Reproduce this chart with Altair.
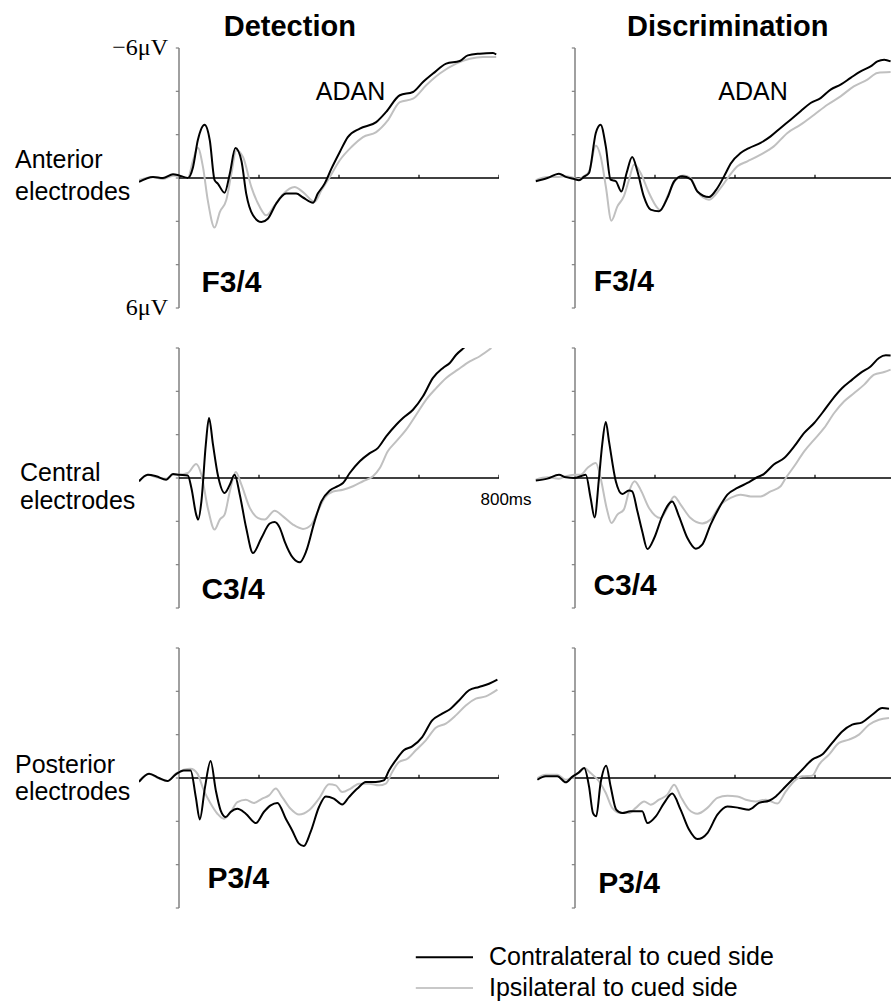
import altair as alt
import pandas as pd

# ---------------------------------------------------------------------------
# Grand-average ERP traces (time in ms, amplitude in microvolts, negative up)
# ---------------------------------------------------------------------------

# Detection task, anterior electrodes (F3/4)
det_ant_contra_t = [-100, -65, -40, -15, 0, 22, 35, 47, 64, 77, 89, 97, 114, 127, 141, 156, 168, 185, 206,
                    222, 243, 268, 293, 310, 335, 347, 364, 381, 402, 422, 452, 493, 518, 552, 585, 610,
                    635, 668, 702, 722, 752, 785, 793]
det_ant_contra_v = [0.18, -0.05, 0.0, -0.17, -0.12, 0.0, -0.5, -1.74, -2.46, -1.74, 0.1, 0.26, 0.68, -0.2,
                    -1.38, -0.8, 0.72, 1.72, 2.03, 1.88, 1.18, 0.72, 0.72, 0.9, 1.14, 0.72, 0.26, -0.43,
                    -1.2, -1.89, -2.28, -2.58, -3.05, -3.82, -3.97, -4.43, -4.82, -5.28, -5.4, -5.66,
                    -5.74, -5.77, -5.7]
det_ant_ipsi_t = [-100, -65, -40, -15, 0, 22, 35, 47, 60, 72, 89, 102, 118, 131, 143, 160, 181, 202, 218,
                  239, 260, 289, 310, 339, 356, 377, 402, 431, 460, 493, 522, 552, 585, 618, 652, 693,
                  727, 760, 793]
det_ant_ipsi_v = [0.1, -0.05, 0.05, -0.1, -0.1, 0.0, -0.8, -1.4, -0.5, 1.03, 2.29, 1.57, 1.03, -0.2,
                  -1.28, -0.97, 0.42, 1.34, 1.72, 1.26, 0.75, 0.42, 0.65, 1.1, 0.57, -0.05, -0.82,
                  -1.43, -1.89, -2.12, -2.66, -3.5, -3.66, -4.28, -4.82, -5.28, -5.5, -5.58, -5.58]

# Discrimination task, anterior electrodes (F3/4)
dis_ant_contra_t = [-98, -69, -40, -23, -2, 10, 22, 35, 52, 64, 77, 89, 102, 116, 129, 143, 156, 172, 189,
                    210, 231, 248, 268, 289, 306, 335, 356, 377, 389, 414, 435, 464, 489, 514, 539, 564,
                    589, 614, 639, 664, 689, 714, 739, 756, 773, 789]
dis_ant_contra_v = [0.15, 0.0, -0.2, -0.05, 0.05, 0.1, -0.05, -0.23, -2.08, -2.46, -1.46, 0.08, 0.15, 0.62,
                    -0.23, -0.97, -0.31, 0.85, 1.46, 1.54, 0.92, 0.15, -0.08, 0.05, 0.62, 0.88, 0.46,
                    -0.23, -0.66, -1.15, -1.38, -1.62, -1.92, -2.31, -2.69, -3.08, -3.46, -3.69, -4.08,
                    -4.31, -4.62, -4.92, -5.15, -5.38, -5.46, -5.38]
dis_ant_ipsi_t = [-98, -69, -40, -23, -2, 10, 22, 35, 52, 64, 77, 91, 106, 122, 135, 148, 164, 185, 206,
                  214, 231, 252, 272, 289, 306, 335, 364, 385, 406, 431, 464, 497, 531, 564, 598, 631,
                  664, 697, 731, 756, 789]
dis_ant_ipsi_v = [0.1, -0.05, -0.05, -0.08, 0.0, 0.05, -0.08, -0.3, -1.5, -1.0, 0.38, 1.97, 1.31, 0.85,
                  0.08, -0.62, -0.23, 0.69, 1.38, 1.49, 0.85, 0.08, -0.11, 0.0, 0.62, 1.0, 0.46, -0.08,
                  -0.54, -0.77, -1.08, -1.46, -2.08, -2.46, -2.92, -3.38, -3.77, -4.23, -4.54, -4.85,
                  -4.89]

# Detection task, central electrodes (C3/4)
det_cen_contra_t = [-100, -78, -57, -32, -15, 0, 22, 31, 43, 48, 56, 67, 75, 85, 97, 114, 127, 139, 152,
                    168, 185, 206, 227, 239, 252, 264, 285, 302, 318, 339, 356, 377, 397, 410, 427, 452,
                    477, 497, 518, 543, 560, 585, 610, 635, 660, 677, 693, 714, 730]
det_cen_contra_v = [0.15, -0.15, -0.08, 0.08, -0.18, -0.15, -0.12, 0.46, 1.69, 1.92, 1.08, -1.54, -2.77,
                    -1.54, -0.15, 0.69, 0.31, -0.15, 0.77, 2.31, 3.46, 2.77, 2.1, 2.03, 2.3, 2.92, 3.69,
                    3.89, 3.38, 2.0, 1.08, 0.58, 0.38, 0.23, -0.23, -0.77, -1.15, -1.38, -1.92, -2.46,
                    -2.77, -3.15, -3.77, -4.62, -5.08, -5.31, -5.69, -6.03, -6.3]
det_cen_ipsi_t = [-100, -78, -57, -32, -15, 0, 22, 43, 56, 72, 89, 102, 114, 127, 142, 156, 177, 198, 214,
                  239, 260, 285, 310, 331, 347, 364, 385, 410, 435, 460, 485, 502, 522, 543, 568, 593,
                  618, 643, 668, 697, 727, 752, 781]
det_cen_ipsi_v = [0.15, -0.15, -0.03, 0.03, -0.15, -0.15, -0.23, -0.65, -0.15, 1.38, 2.38, 1.92, 1.69,
                  0.62, -0.28, 0.31, 1.38, 1.85, 1.92, 1.51, 1.77, 2.15, 2.35, 2.15, 1.54, 0.92, 0.62,
                  0.54, 0.38, 0.15, -0.08, -0.46, -1.23, -1.69, -2.23, -2.92, -3.62, -4.15, -4.62,
                  -5.0, -5.38, -5.62, -6.0]

# Discrimination task, central electrodes (C3/4)
dis_cen_contra_t = [-98, -69, -40, -23, -2, 14, 27, 39, 49, 60, 68, 77, 85, 102, 118, 135, 143, 156, 168,
                    181, 198, 218, 243, 260, 281, 302, 318, 339, 360, 381, 406, 431, 452, 472, 497, 523,
                    548, 573, 598, 618, 643, 668, 693, 714, 739, 760, 777, 789]
dis_cen_contra_v = [0.12, 0.03, -0.15, -0.03, 0.0, -0.08, -0.15, 0.92, 1.82, 0.0, -1.54, -2.58, -1.69,
                    0.15, 0.74, 0.58, 0.62, 1.54, 2.46, 3.28, 2.77, 1.77, 1.08, 1.77, 2.77, 3.26, 3.08,
                    2.15, 1.38, 0.77, 0.46, 0.23, 0.0, -0.18, -0.62, -0.92, -1.46, -2.08, -2.54, -3.0,
                    -3.62, -4.15, -4.54, -4.85, -5.15, -5.54, -5.66, -5.65]
dis_cen_ipsi_t = [-98, -69, -40, -23, -2, 14, 31, 52, 64, 79, 91, 106, 122, 135, 149, 164, 185, 214, 231,
                  248, 264, 289, 318, 339, 364, 389, 414, 439, 464, 489, 514, 527, 548, 573, 598, 623,
                  648, 673, 698, 723, 748, 773, 789]
dis_cen_ipsi_v = [0.08, -0.03, 0.03, -0.08, -0.15, -0.15, -0.46, -0.69, 0.0, 1.38, 2.08, 1.69, 1.46,
                  0.62, 0.15, 0.54, 1.38, 1.85, 1.38, 0.85, 1.23, 1.85, 2.1, 1.92, 1.23, 0.92, 0.77,
                  0.85, 0.85, 0.62, 0.38, 0.0, -0.54, -1.23, -1.77, -2.31, -3.0, -3.54, -3.92, -4.31,
                  -4.77, -4.89, -5.0]

# Detection task, posterior electrodes (P3/4)
det_pos_contra_t = [-100, -75, -50, -29, -8, 12, 29, 42, 52, 65, 79, 92, 104, 117, 129, 146, 167, 192,
                    212, 229, 246, 267, 283, 300, 312, 329, 350, 367, 387, 408, 425, 446, 467, 492, 512,
                    525, 542, 562, 583, 608, 633, 658, 679, 700, 725, 750, 775, 796]
det_pos_contra_v = [0.18, -0.2, 0.0, 0.14, -0.17, -0.35, -0.35, 0.88, 1.91, 0.42, -0.78, 0.57, 1.49, 1.8,
                    1.57, 1.42, 1.65, 2.08, 1.57, 1.26, 1.15, 1.88, 2.42, 3.03, 3.14, 2.49, 1.34, 0.85,
                    0.95, 1.22, 0.88, 0.49, 0.18, 0.18, 0.11, -0.35, -0.82, -1.28, -1.46, -1.89, -2.66,
                    -2.97, -3.2, -3.58, -4.05, -4.2, -4.35, -4.54]
det_pos_ipsi_t = [-100, -75, -50, -29, -8, 12, 29, 46, 62, 79, 96, 112, 129, 146, 167, 187, 208, 225,
                  242, 258, 279, 300, 325, 350, 375, 392, 408, 429, 450, 475, 500, 517, 533, 550, 571,
                  592, 617, 642, 667, 692, 717, 742, 767, 796]
det_pos_ipsi_v = [0.14, -0.2, 0.03, 0.14, -0.2, -0.38, -0.43, -0.2, 0.57, 1.18, 1.65, 1.88, 1.57, 1.11,
                  1.0, 1.15, 0.95, 0.8, 0.49, 0.88, 1.42, 1.69, 1.49, 0.95, 0.29, 0.34, 0.65, 0.49,
                  0.26, 0.26, 0.34, 0.26, -0.28, -0.74, -0.89, -1.28, -1.74, -2.32, -2.51, -2.89,
                  -3.35, -3.66, -3.77, -4.08]

# Discrimination task, posterior electrodes (P3/4)
dis_pos_contra_t = [-94, -73, -44, -23, -7, 10, 23, 35, 45, 53, 64, 78, 89, 103, 118, 139, 168, 181, 202,
                    223, 243, 264, 285, 306, 331, 356, 381, 410, 435, 460, 485, 502, 527, 552, 568, 593,
                    618, 643, 668, 693, 718, 743, 768, 785]
dis_pos_contra_v = [0.08, -0.08, -0.08, 0.2, -0.05, -0.26, -0.46, 0.38, 1.62, 1.77, 0.23, -0.57, 0.38,
                    1.46, 1.62, 1.54, 1.54, 2.08, 1.77, 1.15, 0.72, 1.46, 2.38, 2.82, 2.54, 1.69, 1.31,
                    1.38, 1.46, 1.15, 1.05, 0.85, 0.38, -0.08, -0.38, -0.85, -1.08, -1.62, -2.15, -2.46,
                    -2.57, -2.92, -3.23, -3.2]
dis_pos_ipsi_t = [-94, -73, -44, -23, -7, 10, 23, 39, 60, 77, 93, 114, 135, 152, 173, 189, 210, 231, 248,
                  264, 285, 306, 331, 356, 381, 406, 427, 452, 477, 506, 527, 552, 568, 593, 610, 635,
                  660, 685, 710, 735, 760, 785]
dis_pos_ipsi_v = [0.0, -0.15, -0.15, 0.08, -0.05, -0.26, -0.46, -0.23, 0.15, 0.69, 1.38, 1.62, 1.62,
                  1.38, 1.08, 1.23, 1.0, 0.77, 0.31, 0.85, 1.46, 1.65, 1.38, 0.92, 0.82, 0.85, 1.0, 1.08,
                  1.0, 1.18, 0.62, 0.08, -0.08, -0.11, -0.62, -1.08, -1.62, -1.77, -2.0, -2.46, -2.69,
                  -2.77]

# Axis ticks and text
y_ticks = [-6, -4, -2, 0, 2, 4, 6]
x_ticks = [200, 400, 600, 800]
series_names = ["Contralateral to cued side", "Ipsilateral to cued side"]
task_names = ["Detection", "Discrimination"]
region_names = ["Anterior\nelectrodes", "Central\nelectrodes", "Posterior\nelectrodes"]
site_names = ["F3/4", "C3/4", "P3/4"]

# ---------------------------------------------------------------------------
# Style
# ---------------------------------------------------------------------------
SANS = "Liberation Sans"
SERIF = "Liberation Serif"
BLACK = "#000000"
GREY = "#c0c0c0"
AXIS_GREY = "#808080"
PANEL_H = 260
PX_PER_MS = 0.4
TICK_MS = 8        # y tick length
TICK_UV = 0.15     # x tick length

# Key (drawn under the bottom-left panel, in that panel's time/amplitude units)
KEY_ROWS_V = [8.27, 9.69]
KEY_LINE_T = (592, 735)
KEY_TEXT_T = 775


def pos(xs, ys, tfield="t", vfield="v"):
    return dict(x=alt.X(f"{tfield}:Q", scale=xs, axis=None),
                y=alt.Y(f"{vfield}:Q", scale=ys, axis=None))


def text_layer(xs, ys, label, t, v, **style):
    df = pd.DataFrame({"t": [t], "v": [v], "label": [label]})
    opts = {"font": SANS, "color": BLACK}
    opts.update(style)
    return alt.Chart(df).mark_text(**opts).encode(text="label:N", **pos(xs, ys))


def key_layers(xs, ys):
    df = pd.DataFrame({"series": series_names, "v": KEY_ROWS_V,
                       "t0": KEY_LINE_T[0], "t1": KEY_LINE_T[1], "tt": KEY_TEXT_T})
    color = alt.Color("series:N", scale=alt.Scale(domain=series_names, range=[BLACK, "#c8c8c8"]),
                      legend=None)
    lines = alt.Chart(df).mark_rule(strokeWidth=2).encode(
        x=alt.X("t0:Q", scale=xs, axis=None), x2="t1:Q",
        y=alt.Y("v:Q", scale=ys, axis=None), color=color)
    labels = alt.Chart(df).mark_text(font=SANS, fontSize=25, align="left", baseline="middle",
                                     color=BLACK).encode(text="series:N", **pos(xs, ys, "tt"))
    return [lines, labels]


def panel(contra, ipsi, t_max, site, site_tv, extras, with_key=False):
    width = round((t_max + 100) * PX_PER_MS)
    xs = alt.Scale(domain=[-100, t_max], nice=False, zero=False)
    ys = alt.Scale(domain=[-6, 6], reverse=True, nice=False, zero=False)

    yaxis = alt.Chart(pd.DataFrame({"t": [0], "lo": [-6], "hi": [6]})).mark_rule(
        color=AXIS_GREY, strokeWidth=1.5).encode(
        x=alt.X("t:Q", scale=xs, axis=None), y=alt.Y("lo:Q", scale=ys, axis=None), y2="hi:Q")
    yticks = alt.Chart(pd.DataFrame({"v": y_ticks, "t0": -TICK_MS, "t1": 0})).mark_rule(
        color=AXIS_GREY, strokeWidth=1.2).encode(
        x=alt.X("t0:Q", scale=xs, axis=None), x2="t1:Q", y=alt.Y("v:Q", scale=ys, axis=None))
    zero = alt.Chart(pd.DataFrame({"t0": [0], "t1": [800], "v": [0]})).mark_rule(
        color=BLACK, strokeWidth=1.3, clip=True).encode(
        x=alt.X("t0:Q", scale=xs, axis=None), x2="t1:Q", y=alt.Y("v:Q", scale=ys, axis=None))
    xticks = alt.Chart(pd.DataFrame({"t": x_ticks, "v0": 0, "v1": -TICK_UV})).mark_rule(
        color=BLACK, strokeWidth=1.2, clip=True).encode(
        x=alt.X("t:Q", scale=xs, axis=None), y=alt.Y("v0:Q", scale=ys, axis=None), y2="v1:Q")

    ipsi_line = alt.Chart(pd.DataFrame({"t": ipsi[0], "v": ipsi[1]})).mark_line(
        color=GREY, strokeWidth=2, interpolate="monotone", clip=True).encode(**pos(xs, ys))
    contra_line = alt.Chart(pd.DataFrame({"t": contra[0], "v": contra[1]})).mark_line(
        color=BLACK, strokeWidth=2, interpolate="monotone", clip=True).encode(**pos(xs, ys))

    site_text = text_layer(xs, ys, site, site_tv[0], site_tv[1], fontSize=30, fontWeight="bold",
                           align="left", baseline="alphabetic")

    layers = [yaxis, yticks, zero, xticks, ipsi_line, contra_line, site_text]
    for e in extras:
        layers.append(text_layer(xs, ys, e["text"], e["t"], e["v"], **e["style"]))
    if with_key:
        layers += key_layers(xs, ys)
    return alt.layer(*layers).properties(width=width, height=PANEL_H)


def region_label(text, dx, dy, line_h):
    return dict(text=text, t=-100, v=0,
                style=dict(fontSize=25, align="left", baseline="alphabetic", dx=dx, dy=dy,
                           lineBreak="\n", lineHeight=line_h))


def task_title(text, t):
    return dict(text=text, t=t, v=-6,
                style=dict(fontSize=29, fontWeight="bold", align="center", baseline="middle",
                           dy=-21))


adan = dict(fontSize=25, align="center", baseline="alphabetic")
uv = dict(font=SERIF, fontSize=24, align="right", baseline="middle", dx=-11)

p11 = panel((det_ant_contra_t, det_ant_contra_v), (det_ant_ipsi_t, det_ant_ipsi_v), 800,
            site_names[0], (56, 5.25),
            [task_title(task_names[0], 277),
             region_label(region_names[0], -124, -10, 32),
             dict(text="ADAN", t=429, v=-3.6, style=adan),
             dict(text="\u22126\u03bcV", t=0, v=-6, style=uv),
             dict(text="6\u03bcV", t=0, v=6, style=uv)])
p12 = panel((dis_ant_contra_t, dis_ant_contra_v), (dis_ant_ipsi_t, dis_ant_ipsi_v), 790,
            site_names[0], (47, 5.2),
            [task_title(task_names[1], 382),
             dict(text="ADAN", t=445, v=-3.6, style=adan)])
p21 = panel((det_cen_contra_t, det_cen_contra_v), (det_cen_ipsi_t, det_cen_ipsi_v), 800,
            site_names[1], (56, 5.57),
            [region_label(region_names[1], -119, 3, 28),
             dict(text="800ms", t=800, v=0,
                  style=dict(fontSize=17, align="center", baseline="middle", dx=7, dy=22))])
p22 = panel((dis_cen_contra_t, dis_cen_contra_v), (dis_cen_ipsi_t, dis_cen_ipsi_v), 790,
            site_names[1], (46, 5.4), [])
p31 = panel((det_pos_contra_t, det_pos_contra_v), (det_pos_ipsi_t, det_pos_ipsi_v), 800,
            site_names[2], (71, 5.08),
            [region_label(region_names[2], -124, -5, 27)], with_key=True)
p32 = panel((dis_pos_contra_t, dis_pos_contra_v), (dis_pos_ipsi_t, dis_pos_ipsi_v), 790,
            site_names[2], (58, 5.33), [])

chart = alt.concat(p11, p12, p21, p22, p31, p32, columns=2,
                   spacing={"row": 40, "column": 36}, bounds="flush").properties(
    padding={"left": 15, "top": 13, "right": 0, "bottom": 5},
    background="white",
).configure_view(stroke=None)

chart.save("out.html", embed_options={"renderer": "svg", "actions": False})
